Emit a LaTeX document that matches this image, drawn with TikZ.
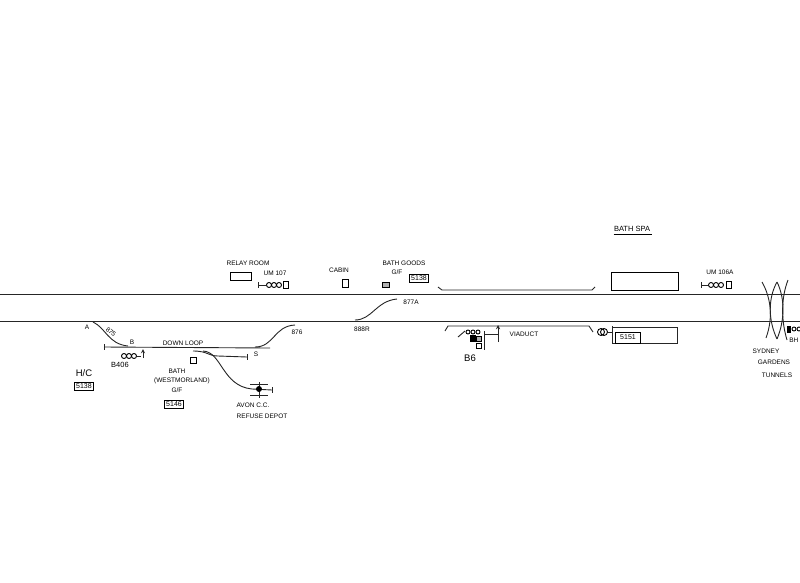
\documentclass[tikz,border=0pt]{standalone}
\usepackage{fontspec}
\setmainfont{Liberation Sans}
\usetikzlibrary{positioning}

\begin{document}
\begin{tikzpicture}[x=1pt,y=-1pt,thick,
	track/.style={line width=0.9pt,black!85},
	lbl/.style={font=\fontsize{6.5}{7}\selectfont,inner sep=0pt},
	bigl/.style={font=\fontsize{9.5}{10}\selectfont,inner sep=0pt},
	numbox/.style={draw,line width=0.9pt,font=\fontsize{7}{8}\selectfont,inner sep=1.5pt},
	lamp/.style={circle,draw,line width=0.9pt,minimum size=5pt,inner sep=0pt},
	plainbox/.style={draw,line width=0.9pt,inner sep=0pt}]
	
	\useasboundingbox (0,0) rectangle (800,582);
	
	% running lines
	\coordinate (t1l) at (0,294);
	\coordinate (t1r) at (800,294);
	\coordinate (t2l) at (0,321);
	\coordinate (t2r) at (800,321);
	\draw[track] (t1l) -- (t1r);
	\draw[track] (t2l) -- (t2r);
	
	% down loop and sidings
	\coordinate (loopl) at (104,347);
	\coordinate (loopr) at (270,348);
	\coordinate (a) at (93,322);
	\coordinate (b) at (128,346);
	\coordinate (sa) at (193,351);
	\coordinate (sb) at (247,357);
	\coordinate (ca) at (203,351);
	\coordinate (cb) at (272,390);
	\coordinate (da) at (255,347);
	\coordinate (db) at (295,325);
	\draw[track] (loopl) -- (loopr);
	\draw[track] (104,344) -- (104,350);
	\draw[track] (a) .. controls (106,328) and (108,344) .. (b);
	\draw[track] (sa) .. controls (208,351) and (208,356) .. (218,356) -- (sb);
	\draw[track] (247,354) -- (247,360);
	\draw[track] (ca) .. controls (222,352) and (222,386) .. (252,389) -- (cb);
	\draw[track] (272,387) -- (272,393);
	\draw[track] (da) .. controls (274,347) and (274,326) .. (db);
	
	% buffer stop at the depot
	\coordinate (dtop) at (259,382);
	\coordinate (dbot) at (259,398);
	\draw[track] (250,384) -- (268,384);
	\draw[track] (250,395) -- (268,395);
	\draw[track] (dtop) -- (dbot);
	\fill (259,389) circle (3pt);
	
	% B406 signal
	\node[lamp] (s1) at (124,356) {};
	\node[lamp] (s2) at (129,356) {};
	\node[lamp] (s3) at (134,356) {};
	\draw[track] (s3) -- (141,356);
	\draw[track,->,>=stealth] (143,358) -- (143,349);
	
	% labels left
	\node[lbl] (lA) at (87,327) {A};
	\node[lbl,rotate=-40] (l875) at (111,332) {875};
	\node[lbl] (lB) at (132,342) {B};
	\node[lbl] (lloop) at (183,343) {DOWN LOOP};
	\node[lbl,font=\fontsize{7.5}{8}\selectfont] (l406) at (120,365) {B406};
	\node[bigl] (lhc) at (84,373) {H/C};
	\node[numbox] (b5138) at (84,386) {5138};
	\node[plainbox,minimum size=6pt] (sq) at (193,360) {};
	\node[lbl] (lbath) at (177,371) {BATH};
	\node[lbl] (lwest) at (182,381) {(WESTMORLAND)};
	\node[lbl] (lgf) at (177,390) {G/F};
	\node[numbox] (b5146) at (174,404) {5146};
	\node[lbl] (lavon) at (253,405) {AVON C.C.};
	\node[lbl] (lref) at (262,416) {REFUSE DEPOT};
	\node[lbl] (l876) at (297,332) {876};
	\node[lbl] (lS) at (256,354) {S};
	
	% up side
	\node[lbl] (lrelay) at (248,263) {RELAY ROOM};
	\node[plainbox,minimum width=21pt,minimum height=8pt] (relay) at (241,276) {};
	\node[lbl] (lum) at (275,273) {UM 107};
	\node[lamp] (u1) at (269,285) {};
	\node[lamp] (u2) at (274,285) {};
	\node[lamp] (u3) at (279,285) {};
	\node[plainbox,minimum width=5pt,minimum height=7pt] (u4) at (286,285) {};
	\draw[track] (258,285) -- (u1);
	\draw[track] (258,282) -- (258,288);
	\node[lbl] (lcabin) at (339,270) {CABIN};
	\node[plainbox,minimum width=6pt,minimum height=8pt] (cabin) at (345,283) {};
	\node[plainbox,fill=black!30,minimum width=7pt,minimum height=5pt] (goods) at (386,285) {};
	\node[lbl] (lgoods) at (404,263) {BATH GOODS};
	\node[lbl] (lgf2) at (397,272) {G/F};
	\node[numbox] (b5138b) at (419,278) {5138};
	
	\coordinate (xa) at (355,320);
	\coordinate (xb) at (397,299);
	\draw[track] (xa) .. controls (372,320) and (376,301) .. (xb);
	\node[lbl] (l877) at (411,302) {877A};
	\node[lbl] (l888) at (362,329) {888R};
	
	% platforms
	\draw[track] (438,287) -- (442,290) -- (592,290) -- (595,287);
	\draw[track] (445,331) -- (448,326) -- (589,326) -- (593,332);
	\node[plainbox,minimum width=67pt,minimum height=18pt] (spa) at (644.5,281) {};
	\node[lbl,font=\fontsize{7.5}{8}\selectfont] (lspa) at (632,229) {BATH SPA};
	\draw[line width=0.9pt] (lspa.south west)++(0,2) -- ++(38,0);
	
	% B6 and viaduct
	\coordinate (v1) at (484,331);
	\coordinate (v2) at (484,350);
	\draw[track] (458,337) -- (465,331);
	\node[lamp,minimum size=4pt] (b1) at (468,332) {};
	\node[lamp,minimum size=4pt] (b2) at (473,332) {};
	\node[lamp,minimum size=4pt] (b3) at (478,332) {};
	\fill (470,335) rectangle (476,342);
	\node[plainbox,fill=black!30,minimum size=5pt] (b4) at (479,339) {};
	\node[plainbox,minimum size=5pt] (b5) at (479,346) {};
	\draw[track] (v1) -- (v2);
	\draw[track] (484,334) -- (498,334);
	\draw[track,->,>=stealth] (498,342) -- (498,325);
	\node[lbl] (lvia) at (524,334) {VIADUCT};
	\node[bigl] (lb6) at (470,358) {B6};
	
	% 5151 platform
	\node[lamp,minimum size=7pt] (p1) at (601,332) {};
	\node[lamp,minimum size=7pt] (p2) at (604,332) {};
	\draw[track] (p2) -- (612,332);
	\draw[track] (612,326) -- (612,343) -- (677,343) -- (677,327) -- (612,327);
	\node[plainbox,minimum width=25pt,minimum height=11pt,font=\fontsize{7}{8}\selectfont] (b5151) at (628,337.5) {5151};
	
	% UM 106A
	\node[lbl] (lum2) at (720,272) {UM 106A};
	\node[lamp] (w1) at (711,285) {};
	\node[lamp] (w2) at (716,285) {};
	\node[lamp] (w3) at (721,285) {};
	\node[plainbox,minimum width=5pt,minimum height=7pt] (w4) at (729,285) {};
	\draw[track] (701,285) -- (w1);
	\draw[track] (701,282) -- (701,288);
	
	% tunnels
	\draw[track] (762,282) .. controls (770,296) and (774,316) .. (766,338);
	\draw[track] (777,282) .. controls (768,298) and (768,320) .. (777,339);
	\draw[track] (777,282) .. controls (785,298) and (785,320) .. (777,339);
	\draw[track] (788,280) .. controls (781,298) and (781,320) .. (787,340);
	\fill (787,326) rectangle (791,333);
	\node[lamp,minimum size=4pt] (e1) at (794,329) {};
	\node[lamp,minimum size=4pt] (e2) at (799,329) {};
	\node[lbl,anchor=west] (ledge) at (789,340) {BH};
	\node[lbl] (lsyd) at (766,351) {SYDNEY};
	\node[lbl] (lgard) at (774,362) {GARDENS};
	\node[lbl] (ltun) at (777,375) {TUNNELS};
\end{tikzpicture}
\end{document}
